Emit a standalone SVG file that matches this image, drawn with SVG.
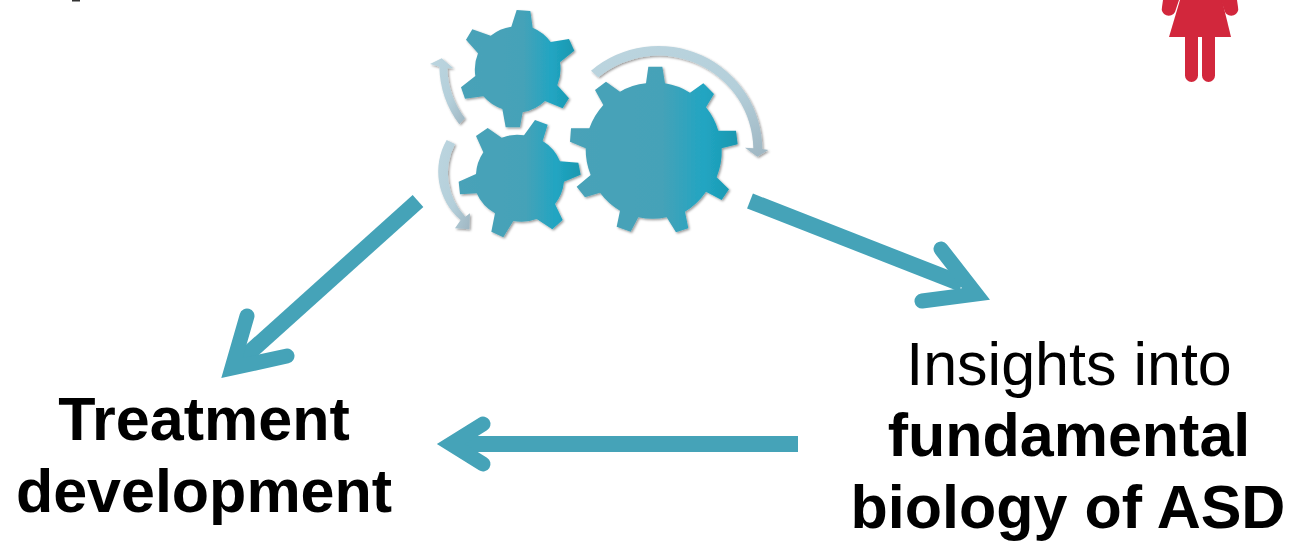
<svg xmlns="http://www.w3.org/2000/svg" width="1291" height="542" viewBox="0 0 1291 542">
<style>
.lab{font-family:"Liberation Sans",Arial,sans-serif;font-size:61px;fill:#000;text-anchor:middle}
.b{font-weight:bold}
.gear{fill:url(#gearFill);filter:url(#sh)}
.turn{fill:url(#turnFill);filter:url(#sh)}
.arr{fill:none;stroke:#45a3b8;stroke-width:16;stroke-linecap:butt}
.head{fill:none;stroke:#45a3b8;stroke-width:15;stroke-linecap:round;stroke-linejoin:miter}
</style>
<defs>
<linearGradient id="gearFill" x1="0" y1="0" x2="1" y2="0"><stop offset="0" stop-color="#48a2b8"/><stop offset="0.55" stop-color="#45a2b8"/><stop offset="0.8" stop-color="#21a5c2"/><stop offset="1" stop-color="#1b98b0"/></linearGradient>
<linearGradient id="turnFill" x1="0" y1="0" x2="1" y2="1"><stop offset="0" stop-color="#bcd5df"/><stop offset="0.6" stop-color="#b4cfda"/><stop offset="1" stop-color="#9fb6c2"/></linearGradient>
<filter id="sh" x="-10%" y="-10%" width="125%" height="125%"><feDropShadow dx="4" dy="4" stdDeviation="3" flood-color="#000" flood-opacity="0.4"/></filter>
</defs>
<rect id="bg" width="1291" height="542" fill="#fff"/>
<rect id="mark" x="72" y="0" width="8" height="1.500" fill="#333"/>
<g id="gears" transform="translate(420 0) scale(.33333)">
<g id="gear-top"><path class="gear" d="M290,30 L331,33 L338,83 A128,128 0 0 1 392,126 L447,117 L463,152 L420,187 A128,128 0 0 1 412,256 L447,295 L428,325 L375,303 A128,128 0 0 1 308,337 L300,382 L257,382 L247,327 A128,128 0 0 1 190,289 L135,296 L123,262 L166,228 A128,128 0 0 1 174,160 L138,119 L157,88 L212,107 A128,128 0 0 1 274,80 Z"/></g>
<g id="gear-bottom"><path class="gear" d="M345,360 L383,374 L368,423 A128,128 0 0 1 420,484 L475,488 L482,524 L432,545 A128,128 0 0 1 405,612 L428,660 L397,688 L350,657 A128,128 0 0 1 280,663 L250,712 L214,695 L225,640 A128,128 0 0 1 170,580 L120,583 L116,545 L168,522 A128,128 0 0 1 190,457 L168,408 L203,384 L245,413 A128,128 0 0 1 312,406 Z"/></g>
<g id="gear-large"><path class="gear" d="M685,200 L727,200 L735,250 A205,205 0 0 1 810,278 L850,250 L882,282 L858,322 A205,205 0 0 1 895,392 L948,392 L953,433 L905,445 A205,205 0 0 1 890,532 L927,568 L905,600 L858,575 A205,205 0 0 1 795,635 L805,685 L768,697 L740,652 A205,205 0 0 1 655,652 L632,695 L590,680 L600,632 A205,205 0 0 1 540,578 L495,592 L470,560 L512,525 A205,205 0 0 1 497,445 L450,425 L453,385 L508,385 A205,205 0 0 1 550,315 L525,270 L558,245 L600,275 A205,205 0 0 1 678,250 Z"/></g>
<g id="turn-large"><path class="turn" d="M513,212 A312,312 0 0 1 1027,447 L1045,450 L1012,470 L975,443 L1000,445 A284,284 0 0 0 535,232 Z"/></g>
<g id="turn-up"><path class="turn" d="M118,373 A300,300 0 0 1 58,200 L30,192 L65,175 L100,205 L82,205 A260,260 0 0 0 135,355 Z"/></g>
<g id="turn-down"><path class="turn" d="M80,420 A190,190 0 0 0 122,660 L105,685 L148,688 L150,640 L136,650 A190,190 0 0 1 105,432 Z"/></g>
</g>
<g id="woman" fill="#d2273c">
<path d="M1180,0 L1222,0 L1231,37 L1169,37 Z"/>
<path d="M1185,36 h13 v39.500 a6.500,6.500 0 0 1 -13,0 Z M1202,36 h13 v39.500 a6.500,6.500 0 0 1 -13,0 Z"/>
<path d="M1163,0 h16 l-4,12 a7,7 0 0 1 -13,-5 Z M1237,0 h-16 l4,12 a7,7 0 0 0 13,-5 Z"/>
</g>
<g id="connectors">
<path class="arr" d="M418,201 L240,361"/>
<path class="head" d="M247,316 L232,368 L287,356"/>
<path class="arr" d="M750,201 L962,284"/>
<path class="head" d="M941,249 L976,294 L922,301"/>
<path class="arr" d="M798,444 L460,444"/>
<path class="head" d="M483,424 L451,444 L483,464"/>
</g>
<g id="node-treatment">
<text class="lab b" x="204" y="440">Treatment</text>
<text class="lab b" x="204" y="512">development</text>
</g>
<g id="node-insights">
<text class="lab" x="1069" y="385">Insights into</text>
<text class="lab b" x="1069" y="456">fundamental</text>
<text class="lab b" x="1068" y="528">biology of ASD</text>
</g>
</svg>
